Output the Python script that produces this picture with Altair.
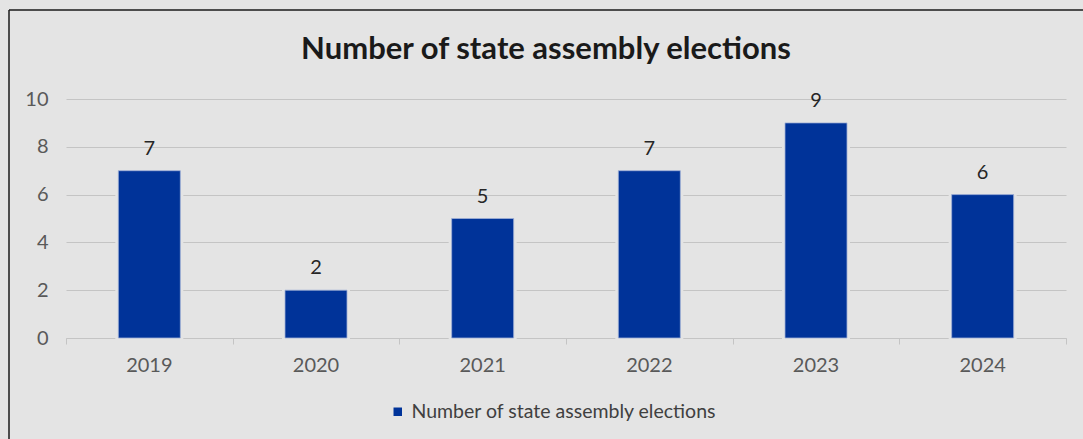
import altair as alt
import pandas as pd

years = ["2019", "2020", "2021", "2022", "2023", "2024"]
counts = [7, 2, 5, 7, 9, 6]
series_name = "Number of state assembly elections"
tick_positions = [0, 1, 2, 3, 4, 5, 6]

df = pd.DataFrame({"year": years, "count": counts, "series": [series_name] * len(years)})
ticks_df = pd.DataFrame({"t": tick_positions})

FONT = "Lato"
BAR = "#003399"
GRID = "#c4c4c4"
BG = "#e4e4e4"

x_enc = alt.X("year:N", sort=years, title=None,
              scale=alt.Scale(paddingInner=0.628, paddingOuter=0.314),
              axis=alt.Axis(orient="bottom", labelAngle=0, labelFontSize=20, labelColor="#595959",
                            labelFont=FONT, ticks=False, domain=False, labelPadding=17, grid=False))
y_enc = alt.Y("count:Q", title=None,
              scale=alt.Scale(domain=[0, 10], nice=False),
              axis=alt.Axis(values=[0, 2, 4, 6, 8, 10], labelFontSize=20, labelColor="#595959",
                            labelFont=FONT, ticks=False, domain=False, labelPadding=18,
                            gridColor=GRID, gridWidth=1))

underlay = alt.Chart(df).mark_bar(stroke=BG, strokeWidth=6, fill=BG).encode(
    x=x_enc, y=y_enc)

bars = alt.Chart(df).mark_bar(stroke="#9fb0d6", strokeWidth=0.8).encode(
    x=x_enc, y=y_enc,
    color=alt.Color("series:N", title=None,
                    scale=alt.Scale(range=[BAR]),
                    legend=alt.Legend(orient="none", legendX=322, legendY=303, symbolType="square",
                                      symbolSize=72, labelFontSize=19.5, labelFont=FONT, labelLimit=0,
                                      labelColor="#404040", symbolStrokeWidth=0, labelOffset=4)),
)

labels = alt.Chart(df).mark_text(dy=-22, fontSize=20, font=FONT, color="#262626").encode(
    x=x_enc, y=y_enc, text="count:Q")

tick_layer = alt.Chart(ticks_df).mark_point(opacity=0).encode(
    x=alt.X("t:Q", title=None, scale=alt.Scale(domain=[0, 6], nice=False),
            axis=alt.Axis(values=tick_positions, labels=False, grid=False, tickSize=6,
                          tickColor=GRID, domainColor=GRID, orient="bottom")),
    y=alt.value(239),
)

border = alt.Chart(ticks_df.head(1)).mark_rule(color="#1a1a1a", strokeWidth=1.5).encode(
    x=alt.value(-57), x2=alt.value(1030), y=alt.value(-89), y2=alt.value(-89))
border_left = alt.Chart(ticks_df.head(1)).mark_rule(color="#1a1a1a", strokeWidth=1.5).encode(
    x=alt.value(-57), x2=alt.value(-57), y=alt.value(-89), y2=alt.value(360))

chart = alt.layer(border, border_left, alt.layer(underlay, bars, labels), tick_layer).resolve_scale(
    x="independent"
).properties(
    width=1000, height=239,
    title=alt.Title(series_name, fontSize=31, font=FONT, fontWeight="bold", color="#1a1a1a",
                    anchor="middle", dx=-20, offset=-57),
    background=BG,
    padding={"left": 66, "top": 99, "right": 17, "bottom": 101},
    autosize=alt.AutoSizeParams(type="none"),
).configure_view(stroke=None)

chart.save("out.html", embed_options={"renderer": "svg", "actions": False})
